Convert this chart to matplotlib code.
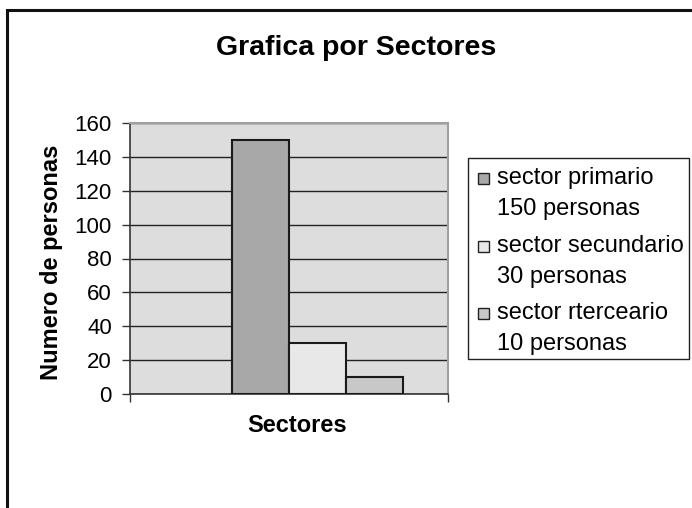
import matplotlib
matplotlib.use("Agg")
import matplotlib.pyplot as plt
from matplotlib.patches import Rectangle

plt.rcParams["font.family"] = ["Liberation Sans", "DejaVu Sans"]

# data
category = "Sectores"
series_names = ["sector primario", "sector secundario", "sector rterceario"]
series_values = [150, 30, 10]
series_colors = ["#A8A8A8", "#E8E8E8", "#C8C8C8"]
y_ticks = [0, 20, 40, 60, 80, 100, 120, 140, 160]

W, H = 692, 508
fig = plt.figure(figsize=(W / 100, H / 100), dpi=100)
fig.patch.set_facecolor("white")

# outer chart border (cropped on right/bottom)
fig.patches.append(Rectangle((7 / W, -0.2), 1.2, 1.2 - 10 / H,
                             transform=fig.transFigure, fill=False,
                             edgecolor="#111111", linewidth=2.2))

ax = fig.add_axes([130 / W, 1 - 394 / H, 318 / W, 271 / H])
ax.set_facecolor("#DDDDDD")

width = 0.18
for i, (name, val, col) in enumerate(zip(series_names, series_values, series_colors)):
    ax.bar(0 + (i - 0.5) * width, val, width=width, color=col,
           edgecolor="#1A1A1A", linewidth=1.5, zorder=3)

ax.set_xlim(-0.5, 0.5)
ax.set_ylim(0, 160)
ax.set_yticks(y_ticks)
ax.set_yticklabels([str(t) for t in y_ticks], fontsize=16)
ax.yaxis.grid(True, color="#222222", linewidth=1.0, zorder=1)
ax.set_axisbelow(True)
ax.set_xticks([-0.5, 0.5])
ax.set_xticklabels([])
ax.tick_params(axis="y", direction="out", length=6, width=1, color="#333333", pad=7)
ax.tick_params(axis="x", direction="out", length=6, width=1, color="#333333")

for side in ["left", "bottom"]:
    ax.spines[side].set_color("#333333")
    ax.spines[side].set_linewidth(1.2)
for side in ["top", "right"]:
    ax.spines[side].set_color("#A0A0A0")
    ax.spines[side].set_linewidth(1.5)

fig.text(52 / W, 1 - 262 / H, "Numero de personas", fontsize=17,
         fontweight="bold", rotation=90, ha="center", va="center")
fig.text(297 / W, 1 - 425 / H, category, fontsize=17, fontweight="bold",
         ha="center", va="center")

fig.text(356 / W, 1 - 48 / H, "Grafica por Sectores", fontsize=20.5,
         fontweight="bold", ha="center", va="center")

# legend box
lx0, ly0, lx1, ly1 = 468, 158, 689, 359
fig.patches.append(Rectangle((lx0 / W, 1 - ly1 / H), (lx1 - lx0) / W, (ly1 - ly0) / H,
                             transform=fig.transFigure, facecolor="white",
                             edgecolor="#222222", linewidth=1.0))
for i, (name, val, col) in enumerate(zip(series_names, series_values, series_colors)):
    y1 = 178 + i * 67.5
    fig.patches.append(Rectangle((478 / W, 1 - (y1 + 6) / H), 11 / W, 11 / H,
                                 transform=fig.transFigure, facecolor=col,
                                 edgecolor="#222222", linewidth=1.0))
    fig.text(497 / W, 1 - y1 / H, name, fontsize=17, ha="left", va="center")
    fig.text(497 / W, 1 - (y1 + 31) / H, f"{val} personas", fontsize=17,
             ha="left", va="center")

fig.savefig("out.png", dpi=100)
